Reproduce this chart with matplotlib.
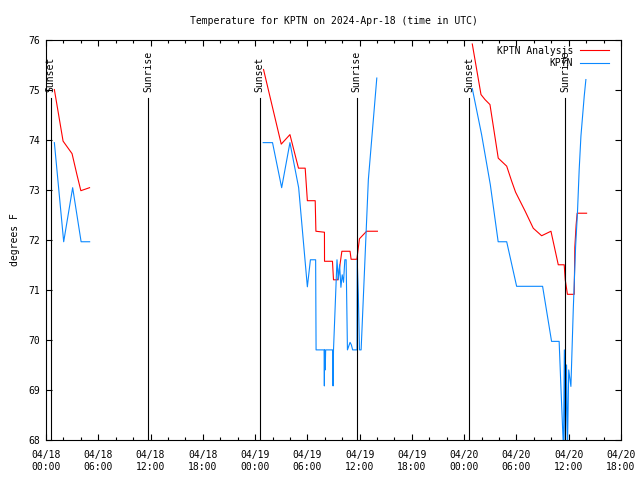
#!/usr/bin/env python3

import numpy as np
import matplotlib
matplotlib.use("Agg")
import matplotlib.pyplot as plt
import matplotlib.dates as mdates
from datetime import datetime

nan = np.nan

# hours after 2024-04-18 00:00 UTC, gaps marked with nan
analysis_hours = [0.96, 1.96, 2.99, 3.55, 4.0, 5.0, nan,
                  24.97, 27.0, 28.0, 28.98, 29.75, 30.0, 30.9, 30.98, 31.96,
                  31.97, 32.88, 33.0, 33.5, 33.96, 34.9, 35.02, 35.68, 35.98,
                  36.8, 38.04, nan,
                  48.93, 49.93, 50.39, 50.96, 51.91, 52.88, 53.45, 53.9, 55.0,
                  55.93, 56.89, 57.96, 58.8, 59.48, 59.6, 59.85, 60.63, 60.7,
                  60.85, 60.97, 62.05]
analysis_temp = [75.0, 73.97, 73.72, 73.3, 72.98, 73.04, nan,
                 75.4, 73.91, 74.1, 73.43, 73.43, 72.78, 72.78, 72.17, 72.15,
                 71.57, 71.57, 71.2, 71.2, 71.77, 71.77, 71.61, 71.61, 72.02,
                 72.17, 72.17, nan,
                 75.91, 74.9, 74.8, 74.7, 73.63, 73.47, 73.17, 72.95, 72.57,
                 72.23, 72.08, 72.17, 71.5, 71.5, 71.2, 70.91, 70.91, 71.85,
                 72.3, 72.53, 72.53]

obs_hours = [0.96, 2.03, 3.06, 4.03, 5.01, nan,
             24.93, 26.0, 27.05, 28.0, 29.0, 30.0, 30.35, 30.95, 31.0, 31.92,
             31.95, 31.98, 32.05, 32.1, 32.9, 32.95, 33.0, 33.4, 33.55, 33.7,
             33.85, 34.0, 34.15, 34.3, 34.45, 34.6, 34.9, 35.05, 35.2, 35.7,
             35.72, 35.85, 35.98, 36.17, 37.0, 37.97, nan,
             48.93, 50.0, 51.0, 51.9, 52.88, 54.02, 57.0, 58.03, 58.9, 59.1,
             59.4, 59.5, 59.6, 59.75, 59.85, 60.0, 60.25, 60.52, 60.79, 61.0,
             61.2, 61.4, 61.78, 61.97]
obs_temp = [73.94, 71.96, 73.04, 71.96, 71.96, nan,
            73.94, 73.94, 73.04, 73.94, 73.04, 71.06, 71.6, 71.6, 69.8, 69.8,
            69.08, 69.8, 69.4, 69.8, 69.8, 69.08, 69.8, 71.6, 71.2, 71.5,
            71.05, 71.3, 71.15, 71.6, 71.6, 69.8, 69.95, 69.9, 69.8, 69.8,
            71.6, 70.9, 69.8, 69.8, 73.2, 75.23, nan,
            75.02, 74.1, 73.1, 71.96, 71.96, 71.07, 71.07, 69.97, 69.97, 69.07,
            67.8, 69.8, 67.8, 69.5, 67.8, 69.4, 69.07, 70.6, 71.87, 72.53,
            73.4, 74.07, 74.87, 75.2]

sunset_hours = [0.55, 24.52, 48.58]
sunrise_hours = [11.72, 35.68, 59.62]

base = mdates.date2num(datetime(2024, 4, 18))
x_start = base
x_end = base + 66 / 24.0

font = "DejaVu Sans Mono"
fs = 7

fig = plt.figure(figsize=(6.4, 4.8), dpi=100)
ax = fig.add_axes([46 / 640, 1 - 440 / 480, 575 / 640, 400.5 / 480])

ax.plot(base + np.array(analysis_hours) / 24, analysis_temp, color="#ff0000",
        lw=0.8, label="KPTN Analysis")
ax.plot(base + np.array(obs_hours) / 24, obs_temp, color="#0a88ff",
        lw=0.8, label="KPTN")

for h in sunset_hours:
    ax.axvline(base + h / 24, ymin=0, ymax=0.853, color="black", lw=0.8)
    ax.text(base + h / 24, 74.95, "Sunset", rotation=90, ha="center",
            va="bottom", family=font, fontsize=fs)
for h in sunrise_hours:
    ax.axvline(base + h / 24, ymin=0, ymax=0.853, color="black", lw=0.8)
    ax.text(base + h / 24, 74.95, "Sunrise", rotation=90, ha="center",
            va="bottom", family=font, fontsize=fs)

ax.set_xlim(x_start, x_end)
ax.set_ylim(68, 76)
ax.xaxis.set_major_locator(mdates.HourLocator(byhour=[0, 6, 12, 18]))
ax.xaxis.set_minor_locator(mdates.HourLocator(interval=2))
ax.xaxis.set_major_formatter(mdates.DateFormatter("%m/%d\n%H:%M"))
ax.yaxis.set_major_locator(plt.MultipleLocator(1))

ax.tick_params(which="both", direction="in", top=True, right=True,
               labelsize=fs, width=0.8)
ax.tick_params(which="major", length=4.5)
ax.tick_params(which="minor", length=2.5)
ax.tick_params(axis="x", pad=7)
ax.tick_params(axis="y", pad=4)
for lab in ax.get_xticklabels() + ax.get_yticklabels():
    lab.set_family(font)
    lab.set_linespacing(1.25)
for sp in ax.spines.values():
    sp.set_linewidth(0.8)

ax.set_ylabel("degrees F", family=font, fontsize=fs, labelpad=6)
fig.text(333.5 / 640, 1 - 21 / 480, "Temperature for KPTN on 2024-Apr-18 (time in UTC)",
         ha="center", va="center", family=font, fontsize=fs)

ax.legend(loc="upper right", bbox_to_anchor=(0.988, 0.997), frameon=False,
          markerfirst=False, prop={"family": font, "size": fs},
          handlelength=3, handletextpad=0.7, labelspacing=0.3,
          borderaxespad=0.2, borderpad=0.3)

fig.savefig("out.png", dpi=100)
